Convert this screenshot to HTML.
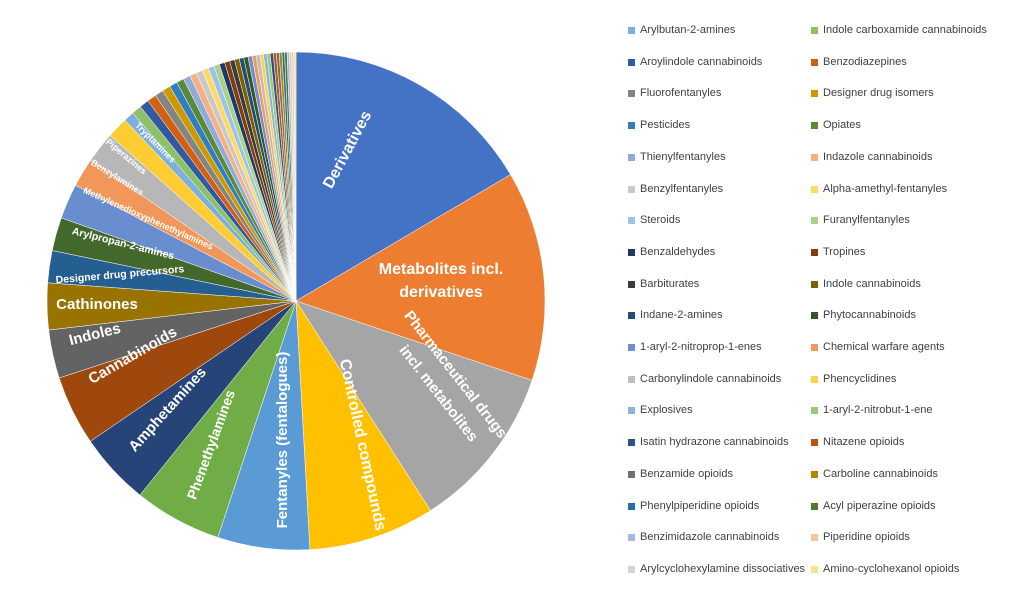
<!DOCTYPE html>
<html><head><meta charset="utf-8"><style>
body{margin:0;background:#fff;width:1017px;height:601px;overflow:hidden;font-family:"Liberation Sans",sans-serif}
.lg{position:absolute;font-size:11px;color:#404040;white-space:nowrap}
.lg i{position:absolute;left:-12px;top:3px;width:7px;height:7px}
</style></head><body>
<svg id="s" width="1017" height="601" style="position:absolute;left:0;top:0"></svg>
<div id="leg"></div>
<script>
const cx=296,cy=301,r=249;
const big=[[0,59.5,'#4472C4'],[59.5,108.6,'#ED7D31'],[108.6,147.3,'#A5A5A5'],[147.3,176.8,'#FFC000'],[176.8,198.3,'#5B9BD5'],[198.3,218.8,'#70AD47'],[218.8,235.7,'#264478'],[235.7,252,'#9E480E'],[252,263.3,'#636363'],[263.3,274.2,'#997300'],[274.2,281.7,'#255E91'],[281.7,289.5,'#43682B'],[289.5,297.7,'#698ED0'],[297.7,304.4,'#F1975A'],[304.4,311.7,'#B7B7B7'],[311.7,316.6,'#FFCD33']];
const small=['#7CAFDD','#8CC168','#335AA1','#D26012','#848484','#CC9A00','#327DC2','#5A8A39','#8FAADC','#F4B183','#C9C9C9','#FFD966','#9DC3E6','#A9D18E','#1F3864','#843C0C','#3B3B3B','#7F6000','#1F4E79','#375623','#6E8FCF','#F19A5F','#BDBDBD','#FFD24D','#86B5E0','#98C97A','#2E4F8C','#B8560F','#707070','#B38600','#2A6DA6','#4E7A33','#A4B9E3','#F7C4A0','#D4D4D4','#FFE08A'];
let segs=big.slice();let a=316.6;const n=small.length;let tot=0;const w=[];
for(let i=0;i<n;i++){w.push(Math.pow(0.955,i));tot+=w[i];}
for(let i=0;i<n;i++){let d=43.4*w[i]/tot;segs.push([a,a+d,small[i]]);a+=d;}
function pt(t){t=t*Math.PI/180;return [cx+r*Math.sin(t),cy-r*Math.cos(t)];}
let h='';
for(const [s,e,c] of segs){const p1=pt(s),p2=pt(e);h+=`<path d="M${cx},${cy}L${p1[0]},${p1[1]}A${r},${r} 0 ${e-s>180?1:0} 1 ${p2[0]},${p2[1]}Z" fill="${c}" stroke="#fff" stroke-width="0.5"/>`;}
const L=[['Derivatives',348,150,-62,16],['Pharmaceutical drugs',455,375,52,15],['incl. metabolites',438,394,52,15],['Controlled compounds',362,445,78,16],['Fentanyles (fentalogues)',283,440,-90,15],['Phenethylamines',212,445,-70,14],['Amphetamines',168,410,-48,15],['Cannabinoids',133,356,-30,15],['Indoles',95,335,-14,15],['Cathinones',97,305,0,15],['Designer drug precursors',120,275,-5,10.5],['Arylpropan-2-amines',123,244,14,10.5],['Methylenedioxyphenethylamines',148,219,24,9],['Benzylamines',117,178,32,9],['Piperazines',126,157,40,9],['Tryptamines',155,143,45,9]];
for(const [t,x,y,rot,f] of L)h+=`<text x="${x}" y="${y}" transform="rotate(${rot} ${x} ${y})" text-anchor="middle" dominant-baseline="middle" fill="#fff" font-weight="bold" font-size="${f}" font-family="Liberation Sans,sans-serif">${t}</text>`;
h+=`<text x="441" y="274" text-anchor="middle" fill="#fff" font-weight="bold" font-size="16" font-family="Liberation Sans,sans-serif">Metabolites incl.</text><text x="441" y="297" text-anchor="middle" fill="#fff" font-weight="bold" font-size="16" font-family="Liberation Sans,sans-serif">derivatives</text>`;
document.getElementById('s').innerHTML=h;
const names=['Arylbutan-2-amines','Indole carboxamide cannabinoids','Aroylindole cannabinoids','Benzodiazepines','Fluorofentanyles','Designer drug isomers','Pesticides','Opiates','Thienylfentanyles','Indazole cannabinoids','Benzylfentanyles','Alpha-amethyl-fentanyles','Steroids','Furanylfentanyles','Benzaldehydes','Tropines','Barbiturates','Indole cannabinoids','Indane-2-amines','Phytocannabinoids','1-aryl-2-nitroprop-1-enes','Chemical warfare agents','Carbonylindole cannabinoids','Phencyclidines','Explosives','1-aryl-2-nitrobut-1-ene','Isatin hydrazone cannabinoids','Nitazene opioids','Benzamide opioids','Carboline cannabinoids','Phenylpiperidine opioids','Acyl piperazine opioids','Benzimidazole cannabinoids','Piperidine opioids','Arylcyclohexylamine dissociatives','Amino-cyclohexanol opioids'];
let g='';
names.forEach((nm,i)=>{const row=Math.floor(i/2),col=i%2;const x=col?823:640,y=24+row*31.7;g+=`<div class="lg" style="left:${x}px;top:${y}px"><i style="background:${small[i]}"></i>${nm}</div>`;});
document.getElementById('leg').innerHTML=g;
</script>
</body></html>
